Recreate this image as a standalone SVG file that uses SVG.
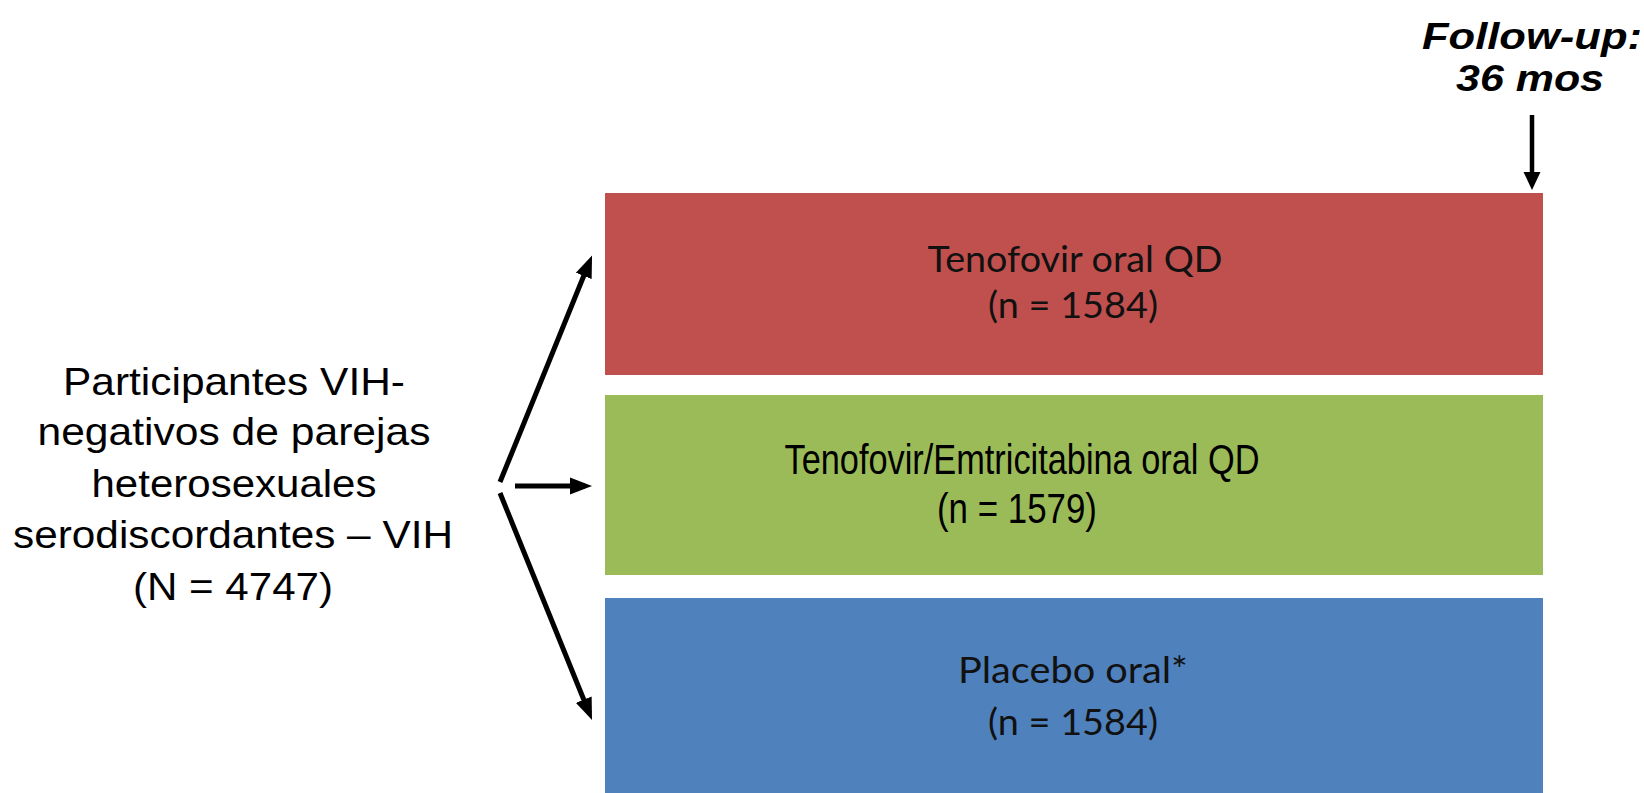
<svg xmlns="http://www.w3.org/2000/svg" width="1644" height="793" viewBox="0 0 1644 793">
  <style>
    .arial { font-family: "Liberation Sans", Arial, sans-serif; fill: #000; }
    .cal { font-family: Lato, "Noto Sans", sans-serif; fill: #111; }
    .conn { stroke: #000; stroke-width: 5; fill: none; }
  </style>
  <defs>
    <marker id="ah" markerUnits="userSpaceOnUse" markerWidth="22" markerHeight="18" refX="15" refY="9" orient="auto">
      <path d="M0,0.5 L22,9 L0,17.5 z" fill="#000"/>
    </marker>
    <marker id="ah2" markerUnits="userSpaceOnUse" markerWidth="18" markerHeight="18" refX="12" refY="9" orient="auto">
      <path d="M0,0.5 L18,9 L0,17.5 z" fill="#000"/>
    </marker>
  </defs>
  <rect width="1644" height="793" fill="#fff"/>

  <g id="followup">
    <text class="arial" font-size="37" font-weight="bold" font-style="italic" text-anchor="middle" x="1532" y="49" textLength="220" lengthAdjust="spacingAndGlyphs">Follow-up:</text>
    <text class="arial" font-size="37" font-weight="bold" font-style="italic" text-anchor="middle" x="1530" y="91" textLength="148" lengthAdjust="spacingAndGlyphs">36 mos</text>
  </g>

  <g id="participants">
    <text class="arial" font-size="39" text-anchor="middle" x="234" y="395" textLength="342" lengthAdjust="spacingAndGlyphs">Participantes VIH-</text>
    <text class="arial" font-size="39" text-anchor="middle" x="234" y="445" textLength="393" lengthAdjust="spacingAndGlyphs">negativos de parejas</text>
    <text class="arial" font-size="39" text-anchor="middle" x="234" y="497" textLength="285" lengthAdjust="spacingAndGlyphs">heterosexuales</text>
    <text class="arial" font-size="39" text-anchor="middle" x="233" y="548" textLength="440" lengthAdjust="spacingAndGlyphs">serodiscordantes – VIH</text>
    <text class="arial" font-size="39" text-anchor="middle" x="233" y="600" textLength="200" lengthAdjust="spacingAndGlyphs">(N = 4747)</text>
  </g>

  <g id="tenofovir">
    <rect x="605" y="193" width="938" height="182" fill="#C0504D"/>
    <text class="cal" font-size="37" text-anchor="middle" x="1075" y="272" textLength="295" lengthAdjust="spacingAndGlyphs">Tenofovir oral QD</text>
    <text class="cal" font-size="37" text-anchor="middle" x="1073" y="318" textLength="170" lengthAdjust="spacingAndGlyphs">(n = 1584)</text>
  </g>

  <g id="tenofovir-emtricitabina">
    <rect x="605" y="395" width="938" height="180" fill="#9BBB59"/>
    <text class="arial" font-size="42" text-anchor="middle" x="1022" y="474" textLength="475" lengthAdjust="spacingAndGlyphs">Tenofovir/Emtricitabina oral QD</text>
    <text class="arial" font-size="42" text-anchor="middle" x="1017" y="523" textLength="160" lengthAdjust="spacingAndGlyphs">(n = 1579)</text>
  </g>

  <g id="placebo">
    <rect x="605" y="598" width="938" height="195" fill="#4F81BD"/>
    <text class="cal" font-size="37" text-anchor="middle" x="1073" y="683" textLength="230" lengthAdjust="spacingAndGlyphs">Placebo oral*</text>
    <text class="cal" font-size="37" text-anchor="middle" x="1073" y="735" textLength="170" lengthAdjust="spacingAndGlyphs">(n = 1584)</text>
  </g>

  <g id="connectors">
    <line class="conn" x1="500" y1="482" x2="589.4" y2="262.0" marker-end="url(#ah)"/>
    <line class="conn" x1="515" y1="486" x2="585" y2="486" marker-end="url(#ah)"/>
    <line class="conn" x1="500" y1="493" x2="589.4" y2="713.5" marker-end="url(#ah)"/>
    <line class="conn" style="stroke-width:4.5" x1="1532" y1="115" x2="1532" y2="184" marker-end="url(#ah2)"/>
  </g>
</svg>
